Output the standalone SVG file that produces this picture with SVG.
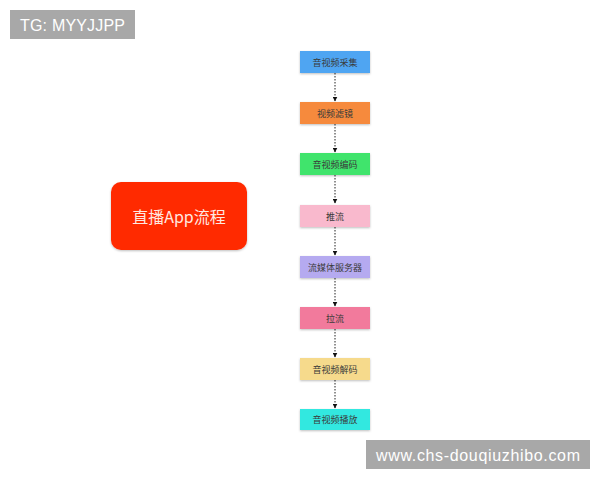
<svg xmlns="http://www.w3.org/2000/svg" width="600" height="480" viewBox="0 0 600 480">
<defs>
<marker id="arr" viewBox="0 0 10 10" refX="9" refY="5" markerWidth="5" markerHeight="5" orient="auto">
<path d="M0,0 L10,5 L0,10 z" fill="#111"/>
</marker>
<filter id="sh" x="-10%" y="-20%" width="120%" height="150%">
<feDropShadow dx="0" dy="1" stdDeviation="0.8" flood-color="#000" flood-opacity="0.25"/>
</filter>
</defs>
<style>
.step{stroke:none;filter:url(#sh)}
.st{font-family:"Noto Sans CJK SC","Liberation Sans",sans-serif;font-size:9px;fill:#3a3a3a;text-anchor:middle;dominant-baseline:central}
.conn{stroke:#222;stroke-width:1;stroke-dasharray:1.5 1.5;fill:none}
.tag{fill:#a8a8a8}
.tagt{font-family:"Liberation Sans","Noto Sans",sans-serif;font-size:16px;fill:#ffffff;dominant-baseline:central}
</style>
<rect width="600" height="480" fill="#ffffff"/>
<g id="tg">
<rect class="tag" x="10" y="10" width="125" height="29"/>
<text class="tagt" x="20" y="25" textLength="105">TG: MYYJJPP</text>
</g>
<g id="main">
<rect x="111" y="182" width="136" height="68" rx="10" fill="#ff2a00" filter="url(#sh)"/>
<text x="179" y="216" font-family="Noto Sans CJK SC,Liberation Sans,sans-serif" font-size="16" fill="#ffe8e0" text-anchor="middle" dominant-baseline="central">直播App流程</text>
</g>
<g id="connectors">
<line class="conn" x1="335" y1="73" x2="335" y2="101" marker-end="url(#arr)"/>
<line class="conn" x1="335" y1="124" x2="335" y2="152" marker-end="url(#arr)"/>
<line class="conn" x1="335" y1="175" x2="335" y2="203" marker-end="url(#arr)"/>
<line class="conn" x1="335" y1="227" x2="335" y2="255" marker-end="url(#arr)"/>
<line class="conn" x1="335" y1="278" x2="335" y2="306" marker-end="url(#arr)"/>
<line class="conn" x1="335" y1="329" x2="335" y2="357" marker-end="url(#arr)"/>
<line class="conn" x1="335" y1="380" x2="335" y2="408" marker-end="url(#arr)"/>
</g>
<g id="n1"><rect class="step" x="300" y="51" width="70" height="22" fill="#4fa5f2"/><text class="st" x="335" y="62">音视频采集</text></g>
<g id="n2"><rect class="step" x="300" y="102" width="70" height="22" fill="#f68a3c"/><text class="st" x="335" y="113">视频滤镜</text></g>
<g id="n3"><rect class="step" x="300" y="153" width="70" height="22" fill="#40e46c"/><text class="st" x="335" y="164">音视频编码</text></g>
<g id="n4"><rect class="step" x="300" y="205" width="70" height="22" fill="#f9b9cd"/><text class="st" x="335" y="216">推流</text></g>
<g id="n5"><rect class="step" x="300" y="256" width="70" height="22" fill="#b5aaf0"/><text class="st" x="335" y="267">流媒体服务器</text></g>
<g id="n6"><rect class="step" x="300" y="307" width="70" height="22" fill="#f27a9c"/><text class="st" x="335" y="318">拉流</text></g>
<g id="n7"><rect class="step" x="300" y="358" width="70" height="22" fill="#f6da8c"/><text class="st" x="335" y="369">音视频解码</text></g>
<g id="n8"><rect class="step" x="300" y="409" width="70" height="21" fill="#30e8e0"/><text class="st" x="335" y="419.5">音视频播放</text></g>
<g id="url">
<rect class="tag" x="366" y="440" width="224" height="29"/>
<text class="tagt" x="376" y="455" textLength="204">www.chs-douqiuzhibo.com</text>
</g>
</svg>
